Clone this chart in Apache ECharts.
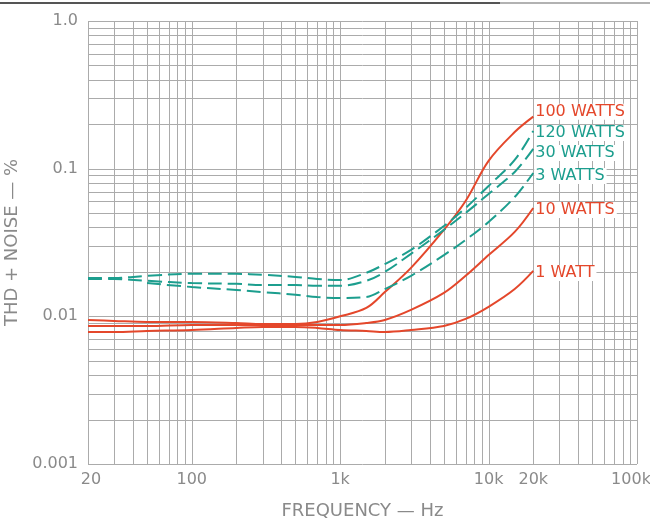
<!DOCTYPE html>
<html>
<head>
<meta charset="utf-8">
<script src="https://cdn.jsdelivr.net/npm/echarts@6/dist/echarts.min.js"></script>
<style>
html,body{margin:0;padding:0;background:#fff;}
#chart{width:650px;height:519px;}
</style>
</head>
<body>
<div id="chart"></div>
<script>
// ---- data ----
const freqs = [20, 30, 50, 100, 200, 300, 500, 700, 1000, 1500, 2000, 3000, 5000, 7000, 10000, 15000, 20000];
const w100 = [0.00945, 0.00931, 0.00916, 0.00916, 0.00902, 0.00888, 0.00888, 0.00916, 0.0100, 0.0114, 0.0146, 0.0213, 0.0385, 0.0604, 0.113, 0.177, 0.225];
const w120 = [0.0182, 0.0182, 0.0188, 0.0194, 0.0194, 0.0191, 0.0185, 0.0179, 0.0176, 0.0197, 0.0226, 0.0282, 0.0409, 0.0542, 0.0764, 0.1146, 0.180];
const w30  = [0.0179, 0.0179, 0.0174, 0.0168, 0.0166, 0.0163, 0.0163, 0.0161, 0.0161, 0.0174, 0.0200, 0.0265, 0.0385, 0.0501, 0.0674, 0.095, 0.136];
const w3   = [null, null, 0.0168, 0.0158, 0.0151, 0.0146, 0.0140, 0.0135, 0.0133, 0.0135, 0.0153, 0.0188, 0.0260, 0.0329, 0.0436, 0.0643, 0.0935];
const w10  = [0.00861, 0.00861, 0.00861, 0.00875, 0.00875, 0.00875, 0.00875, 0.00875, 0.00875, 0.00902, 0.00945, 0.01105, 0.0144, 0.0188, 0.0260, 0.0373, 0.0542];
const w1   = [0.00784, 0.00784, 0.00796, 0.00809, 0.00835, 0.00848, 0.00848, 0.00835, 0.00809, 0.00796, 0.00784, 0.00809, 0.00861, 0.0096, 0.0116, 0.0153, 0.0203];

const xTickValues = [20, 100, 1000, 10000, 20000, 100000];
const xTickLabels = ['20', '100', '1k', '10k', '20k', '100k'];
const yTickValues = [0.001, 0.01, 0.1, 1];
const yTickLabels = ['0.001', '0.01', '0.1', '1.0'];

const gridMultipliers = [1, 2, 3, 4, 5, 6, 7, 8, 9];
const xDecades = [10, 100, 1000, 10000, 100000];
const yDecades = [0.001, 0.01, 0.1, 1];

const X_MIN = 20, X_MAX = 100000, Y_MIN = 0.001, Y_MAX = 1;

// grid line values
const xGrid = [];
xDecades.forEach(d => gridMultipliers.forEach(m => { const v = d * m; if (v >= X_MIN - 1e-9 && v <= X_MAX + 1e-9) xGrid.push(v); }));
const yGrid = [];
yDecades.forEach(d => gridMultipliers.forEach(m => { const v = d * m; if (v >= Y_MIN - 1e-12 && v <= Y_MAX + 1e-9) yGrid.push(v); }));

function pickIndex(vals, v) {
  return vals.findIndex(t => Math.abs(Math.log10(t) - Math.log10(v)) < 1e-6);
}
function pairs(arr) {
  const out = [];
  freqs.forEach((f, i) => { if (arr[i] != null) out.push([f, arr[i]]); });
  return out;
}

const RED = '#e4472b';
const TEAL = '#1c9e8e';
const FONT = 'DejaVu Sans';
const GRAY = '#8a8a8a';
const GRID_COLOR = '#ababab';

function lineSeries(name, arr, color, dashed, offY) {
  return {
    name: name,
    type: 'line',
    data: pairs(arr),
    smooth: 0.35,
    symbol: 'none',
    z: 5,
    lineStyle: { color: color, width: 2, type: dashed ? [14, 6] : 'solid' },
    endLabel: {
      show: true,
      formatter: name,
      color: color,
      fontFamily: FONT,
      fontSize: 16,
      distance: 1,
      offset: [0, offY],
      backgroundColor: '#fff',
      padding: [0, 2, 0, 1]
    }
  };
}

const chart = echarts.init(document.getElementById('chart'), null, { renderer: 'canvas' });
chart.setOption({
  animation: false,
  backgroundColor: '#fff',
  grid: { left: 88, right: 13, top: 21, bottom: 55, containLabel: false, outerBoundsMode: 'none' },
  xAxis: {
    type: 'log', logBase: 10, min: X_MIN, max: X_MAX,
    name: 'FREQUENCY — Hz', nameLocation: 'middle', nameGap: 38,
    nameTextStyle: { color: GRAY, fontFamily: FONT, fontSize: 18 },
    axisLine: { show: false }, axisTick: { show: false }, splitLine: { show: false }, minorSplitLine: { show: false },
    axisLabel: {
      customValues: xTickValues,
      color: GRAY, fontFamily: FONT, fontSize: 16, margin: 8,
      formatter: v => {
        const i = pickIndex(xTickValues, v);
        if (i < 0) return '';
        if (i === xTickValues.length - 1) return '{r|' + xTickLabels[i] + '}';
        if (i === 0) return '{l|' + xTickLabels[i] + '}';
        return xTickLabels[i];
      },
      rich: {
        r: { color: GRAY, fontFamily: FONT, fontSize: 16, padding: [0, 12, 0, 0] },
        l: { color: GRAY, fontFamily: FONT, fontSize: 16, padding: [0, 0, 0, 6] }
      }
    }
  },
  yAxis: {
    type: 'log', logBase: 10, min: Y_MIN, max: Y_MAX,
    name: 'THD + NOISE — %', nameLocation: 'middle', nameGap: 58,
    nameTextStyle: { color: GRAY, fontFamily: FONT, fontSize: 18 },
    axisLine: { show: false }, axisTick: { show: false }, splitLine: { show: false }, minorSplitLine: { show: false },
    axisLabel: {
      customValues: yTickValues,
      color: GRAY, fontFamily: FONT, fontSize: 16, margin: 10,
      formatter: v => { const i = pickIndex(yTickValues, v); return i >= 0 ? yTickLabels[i] : ''; }
    }
  },
  graphic: [
    { type: 'line', shape: { x1: 0, y1: 3, x2: 500, y2: 3 }, style: { stroke: '#555', lineWidth: 2 } },
    { type: 'line', shape: { x1: 500, y1: 3, x2: 650, y2: 3 }, style: { stroke: '#999', lineWidth: 1.5 } }
  ],
  series: [
    {
      type: 'custom', coordinateSystem: 'cartesian2d', silent: true, z: 1,
      data: xGrid.map(v => [v, Y_MIN]),
      renderItem: function (params, api) {
        const f = api.value(0);
        const p1 = api.coord([f, Y_MIN]);
        const p2 = api.coord([f, Y_MAX]);
        const x = Math.round(p1[0]) + 0.5;
        return { type: 'line', shape: { x1: x, y1: p1[1], x2: x, y2: p2[1] }, style: { stroke: GRID_COLOR, lineWidth: 1 } };
      }
    },
    {
      type: 'custom', coordinateSystem: 'cartesian2d', silent: true, z: 1,
      data: yGrid.map(v => [X_MIN, v]),
      renderItem: function (params, api) {
        const v = api.value(1);
        const p1 = api.coord([X_MIN, v]);
        const p2 = api.coord([X_MAX, v]);
        const y = Math.round(p1[1]) + 0.5;
        return { type: 'line', shape: { x1: p1[0], y1: y, x2: p2[0], y2: y }, style: { stroke: GRID_COLOR, lineWidth: 1 } };
      }
    },
    lineSeries('100 WATTS', w100, RED, false, -5),
    lineSeries('120 WATTS', w120, TEAL, true, 2),
    lineSeries('30 WATTS', w30, TEAL, true, 4),
    lineSeries('3 WATTS', w3, TEAL, true, 3),
    lineSeries('10 WATTS', w10, RED, false, 2),
    lineSeries('1 WATT', w1, RED, false, 2)
  ]
});
</script>
</body>
</html>
